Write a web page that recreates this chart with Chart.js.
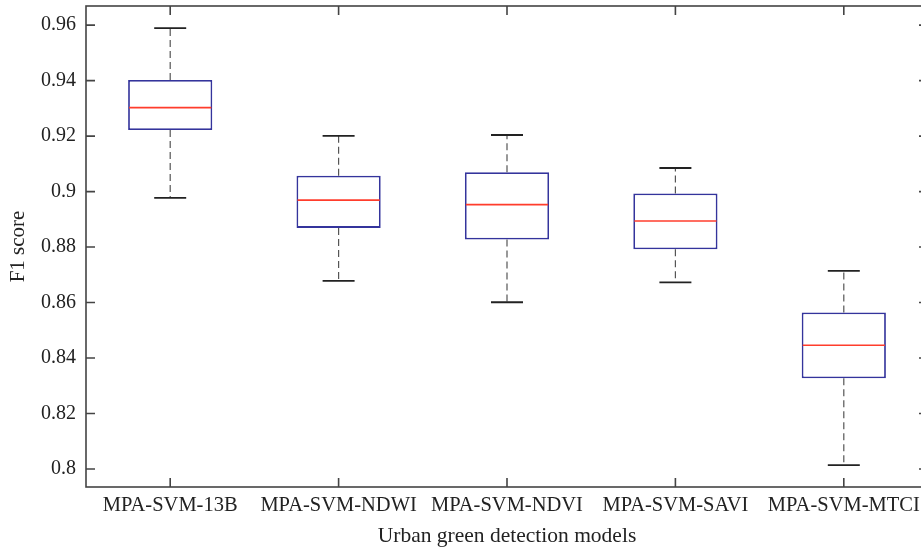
<!DOCTYPE html>
<html>
<head>
<meta charset="utf-8">
<script src="https://cdn.jsdelivr.net/npm/chart.js@4.4.0/dist/chart.umd.min.js"></script>
<style>
  html, body { margin: 0; padding: 0; overflow: hidden; background: #fff; }
  #wrap { width: 940px; height: 552px; }
</style>
</head>
<body>
<div id="wrap"><canvas id="f1-box-chart"></canvas></div>
<script>
const models = ['MPA-SVM-13B', 'MPA-SVM-NDWI', 'MPA-SVM-NDVI', 'MPA-SVM-SAVI', 'MPA-SVM-MTCI'];
const whiskerLow = [0.8977, 0.8678, 0.8601, 0.8673, 0.8014];
const quartile1 = [0.9222, 0.8869, 0.8827, 0.8792, 0.8327];
const medians = [0.9303, 0.8969, 0.8953, 0.8894, 0.8446];
const quartile3 = [0.9402, 0.9057, 0.9070, 0.8993, 0.8564];
const whiskerHigh = [0.9589, 0.9201, 0.9204, 0.9085, 0.8714];
const yTicks = [0.8, 0.82, 0.84, 0.86, 0.88, 0.9, 0.92, 0.94, 0.96];

const FONT = '"Liberation Serif", "DejaVu Serif", serif';
const TEXT = '#222';
const AXIS = '#444';

// no extra room for edge tick labels, the plot box is sized by hand
function noScalePadding(scale) {
  scale.paddingTop = 0;
  scale.paddingBottom = 0;
  scale.paddingLeft = 0;
  scale.paddingRight = 0;
}

// whiskers, caps, medians, plus the boxed frame with inward ticks
const boxExtras = {
  id: 'boxExtras',
  afterDatasetsDraw(chart) {
    const { ctx, scales: { x, y } } = chart;
    const bars = chart.getDatasetMeta(0).data;
    ctx.save();
    bars.forEach((bar, i) => {
      const cx = bar.x;
      const half = bar.width / 2;
      const capHalf = half * 0.38;
      const yq1 = y.getPixelForValue(quartile1[i]);
      const yq3 = y.getPixelForValue(quartile3[i]);
      const ylo = y.getPixelForValue(whiskerLow[i]);
      const yhi = y.getPixelForValue(whiskerHigh[i]);
      const ymed = y.getPixelForValue(medians[i]);

      ctx.strokeStyle = '#555';
      ctx.lineWidth = 1.2;
      ctx.setLineDash([7, 4]);
      ctx.beginPath();
      ctx.moveTo(cx, yq3);
      ctx.lineTo(cx, yhi);
      ctx.moveTo(cx, yq1);
      ctx.lineTo(cx, ylo);
      ctx.stroke();

      ctx.setLineDash([]);
      ctx.strokeStyle = '#222';
      ctx.lineWidth = 1.8;
      ctx.beginPath();
      ctx.moveTo(cx - capHalf, yhi);
      ctx.lineTo(cx + capHalf, yhi);
      ctx.moveTo(cx - capHalf, ylo);
      ctx.lineTo(cx + capHalf, ylo);
      ctx.stroke();

      ctx.strokeStyle = '#ff3d2c';
      ctx.lineWidth = 1.7;
      ctx.beginPath();
      ctx.moveTo(cx - half + 1, ymed);
      ctx.lineTo(cx + half - 1, ymed);
      ctx.stroke();
    });
    ctx.restore();
  },
  afterDraw(chart) {
    const { ctx, chartArea: a, scales: { x, y } } = chart;
    const tick = 9;
    ctx.save();
    ctx.strokeStyle = AXIS;
    ctx.lineWidth = 1.6;
    ctx.strokeRect(a.left, a.top, a.right - a.left, a.bottom - a.top);
    ctx.beginPath();
    yTicks.forEach((v) => {
      const py = y.getPixelForValue(v);
      ctx.moveTo(a.left, py);
      ctx.lineTo(a.left + tick, py);
      ctx.moveTo(a.right, py);
      ctx.lineTo(a.right - tick, py);
    });
    models.forEach((m, i) => {
      const px = x.getPixelForValue(i);
      ctx.moveTo(px, a.bottom);
      ctx.lineTo(px, a.bottom - tick);
      ctx.moveTo(px, a.top);
      ctx.lineTo(px, a.top + tick);
    });
    ctx.stroke();
    ctx.restore();
  },
};

const $canvas = document.getElementById('f1-box-chart');

new Chart($canvas, {
  type: 'bar',
  data: {
    labels: models,
    datasets: [
      {
        data: models.map((m, i) => [quartile1[i], quartile3[i]]),
        backgroundColor: '#ffffff',
        borderColor: '#34349c',
        borderWidth: 1.8,
        borderSkipped: false,
        barPercentage: 0.5,
        categoryPercentage: 1,
      },
    ],
  },
  options: {
    responsive: true,
    maintainAspectRatio: false,
    animation: false,
    layout: { padding: { top: 6, right: 12, bottom: 0, left: 0 } },
    plugins: {
      legend: { display: false },
      tooltip: { enabled: false },
    },
    scales: {
      x: {
        grid: { display: false, drawTicks: false },
        border: { display: false },
        ticks: {
          autoSkip: false,
          maxRotation: 0,
          padding: 6,
          color: TEXT,
          font: { family: FONT, size: 20.5 },
        },
        title: {
          display: true,
          text: 'Urban green detection models',
          color: TEXT,
          font: { family: FONT, size: 21.5 },
          padding: { top: 0, bottom: 3 },
        },
        afterFit(scale) {
          scale.height = 65;
          noScalePadding(scale);
        },
      },
      y: {
        min: 0.7935,
        max: 0.9669,
        grid: { display: false, drawTicks: false },
        border: { display: false },
        afterBuildTicks(scale) {
          scale.ticks = yTicks.map((v) => ({ value: v }));
        },
        ticks: {
          padding: 10,
          color: TEXT,
          font: { family: FONT, size: 20 },
          callback: (v) => String(Number(v.toFixed(2))),
        },
        title: {
          display: true,
          text: 'F1 score',
          color: TEXT,
          font: { family: FONT, size: 21 },
          padding: { top: 6, bottom: 0 },
        },
        afterFit(scale) {
          scale.width = 86;
          noScalePadding(scale);
        },
      },
    },
  },
  plugins: [boxExtras],
});
</script>
</body>
</html>
